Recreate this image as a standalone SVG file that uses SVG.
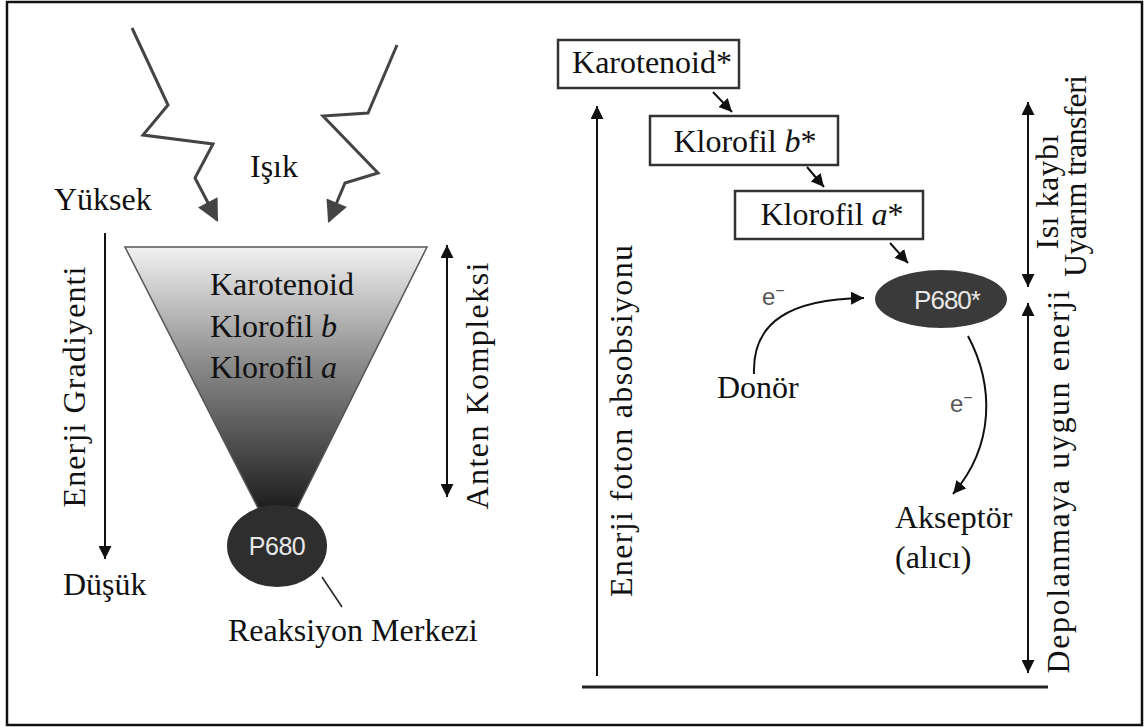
<svg xmlns="http://www.w3.org/2000/svg" width="1148" height="727" viewBox="0 0 1148 727">
<style>
.t{font-family:"Liberation Serif","Times New Roman",serif;font-size:32px;fill:#111}
.r{font-family:"Liberation Serif","Times New Roman",serif;font-size:32px;fill:#111}
.s{font-family:"Liberation Sans",Arial,sans-serif;fill:#e8e8e8}
.e{font-family:"Liberation Sans",Arial,sans-serif;font-size:24px;fill:#555}
.ln{stroke:#111;stroke-width:2;fill:none}
.bolt{stroke:#444;stroke-width:3;fill:none;stroke-linejoin:miter}
.box{fill:#fff;stroke:#333;stroke-width:2.5}
</style>
<defs>
<marker id="ah" viewBox="0 0 10 10" refX="10" refY="5" markerWidth="13" markerHeight="13" markerUnits="userSpaceOnUse" orient="auto-start-reverse">
<path d="M0,0 L10,5 L0,10 z" fill="#111"/>
</marker>
<marker id="bh" viewBox="0 0 10 10" refX="9" refY="5" markerWidth="24" markerHeight="22" markerUnits="userSpaceOnUse" orient="auto">
<path d="M0,0 L10,5 L0,10 z" fill="#444"/>
</marker>
<linearGradient id="fg" x1="0" y1="0" x2="0" y2="1">
<stop offset="0" stop-color="#f2f2f2"/>
<stop offset="0.45" stop-color="#8a8a8a"/>
<stop offset="1" stop-color="#1e1e1e"/>
</linearGradient>
</defs>
<rect x="7" y="2" width="1135" height="723" fill="#fff" stroke="#111" stroke-width="2.5"/>

<g id="light">
<polyline class="bolt" points="132,28 168,105 143,135 213,144 195,178 217,220" marker-end="url(#bh)"/>
<polyline class="bolt" points="397,45 368,113 323,116 378,173 345,183 329,221" marker-end="url(#bh)"/>
<text class="t" x="250" y="177">Işık</text>
</g>

<g id="labels-left">
<text class="t" x="54" y="210">Yüksek</text>
<text class="t" x="63" y="595">Düşük</text>
<text class="r" text-anchor="middle" textLength="241" lengthAdjust="spacing" transform="translate(85,387) rotate(-90)">Enerji Gradiyenti</text>
<text class="r" text-anchor="middle" textLength="247" lengthAdjust="spacing" transform="translate(488,386) rotate(-90)">Anten Kompleksi</text>
</g>

<g id="antenna">
<polygon points="125,247 427,247 297,508 258,508" fill="url(#fg)" stroke="#555" stroke-width="1.5"/>
<text class="t" x="210" y="295">Karotenoid</text>
<text class="t" x="210" y="337">Klorofil <tspan font-style="italic">b</tspan></text>
<text class="t" x="210" y="378">Klorofil <tspan font-style="italic">a</tspan></text>
</g>

<g id="p680">
<ellipse cx="277" cy="546" rx="50" ry="41" fill="#2e2e2e"/>
<text class="s" x="277" y="555" font-size="25" text-anchor="middle" letter-spacing="-0.5">P680</text>
</g>

<g id="reaction-center">
<text class="t" x="228" y="641">Reaksiyon Merkezi</text>
</g>

<g id="karotenoid-star">
<rect class="box" x="558" y="40" width="181" height="48" stroke="#666" stroke-width="3"/>
<text class="t" x="652" y="73" text-anchor="middle">Karotenoid*</text>
</g>
<g id="klorofil-b-star">
<rect class="box" x="650" y="116" width="188" height="49" stroke="#555"/>
<text class="t" x="745" y="152" text-anchor="middle">Klorofil <tspan font-style="italic">b</tspan>*</text>
</g>
<g id="klorofil-a-star">
<rect class="box" x="735" y="191" width="188" height="48"/>
<text class="t" x="832" y="225" text-anchor="middle">Klorofil <tspan font-style="italic">a</tspan>*</text>
</g>

<g id="p680-star">
<ellipse cx="941" cy="299" rx="66" ry="29" fill="#3a3a3a"/>
<text class="s" x="947" y="309" font-size="26" text-anchor="middle" letter-spacing="-1">P680*</text>
</g>

<g id="donor">
<text class="t" x="717" y="398">Donör</text>
</g>
<g id="acceptor">
<text class="t" x="895" y="528">Akseptör</text>
<text class="t" x="895" y="568">(alıcı)</text>
</g>

<g id="labels-right">
<text class="r" text-anchor="middle" textLength="352" lengthAdjust="spacing" transform="translate(632,421) rotate(-90)">Enerji foton absobsiyonu</text>
<text class="r" font-size="30" text-anchor="middle" textLength="115" lengthAdjust="spacing" transform="translate(1058,192) rotate(-90)">Isı kaybı</text>
<text class="t" font-size="28" text-anchor="middle" textLength="202" lengthAdjust="spacing" transform="translate(1086,176) rotate(-90)">Uyarım transferi</text>
<text class="r" text-anchor="middle" textLength="383" lengthAdjust="spacing" transform="translate(1069,482) rotate(-90)">Depolanmaya uygun enerji</text>
<text class="e" x="762" y="305">e<tspan font-size="16" dy="-9">−</tspan></text>
<text class="e" x="950" y="412">e<tspan font-size="16" dy="-9">−</tspan></text>
</g>

<g id="connectors">
<line class="ln" x1="105" y1="233" x2="105" y2="559" marker-end="url(#ah)"/>
<line class="ln" x1="447" y1="245" x2="447" y2="497" marker-start="url(#ah)" marker-end="url(#ah)"/>
<line x1="322" y1="577" x2="342" y2="607" stroke="#222" stroke-width="1.5"/>
<line class="ln" x1="713" y1="92" x2="732" y2="112" marker-end="url(#ah)"/>
<line class="ln" x1="807" y1="167" x2="824" y2="187" marker-end="url(#ah)"/>
<line class="ln" x1="890" y1="243" x2="908" y2="263" marker-end="url(#ah)"/>
<path class="ln" d="M754,374 C752,322 790,299 864,298" marker-end="url(#ah)"/>
<path class="ln" d="M968,336 C994,385 995,445 953,494" marker-end="url(#ah)"/>
<line class="ln" x1="597" y1="676" x2="597" y2="106" marker-end="url(#ah)"/>
<line x1="582" y1="687" x2="1048" y2="687" stroke="#222" stroke-width="3"/>
<line class="ln" x1="1028" y1="102" x2="1028" y2="287" marker-start="url(#ah)" marker-end="url(#ah)"/>
<line class="ln" x1="1028" y1="303" x2="1028" y2="673" marker-start="url(#ah)" marker-end="url(#ah)"/>
</g>
</svg>
